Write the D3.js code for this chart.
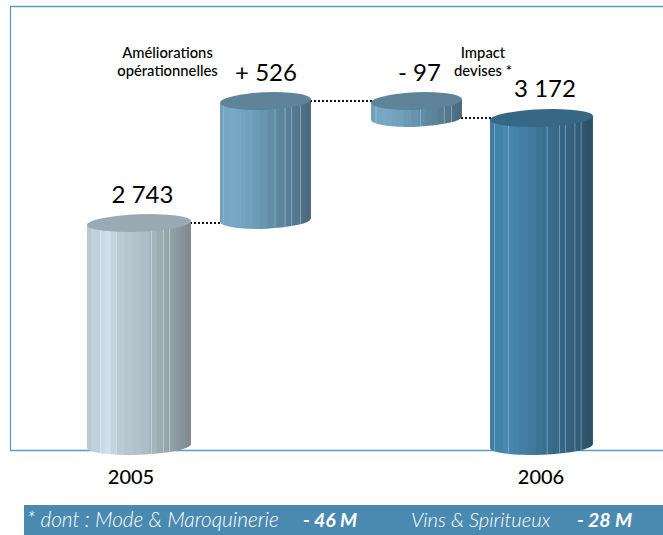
<!DOCTYPE html>
<html><head><meta charset="utf-8">
<script src="https://cdn.jsdelivr.net/npm/d3@7"></script>
<style>html,body{margin:0;padding:0;background:#fff;overflow:hidden}svg{display:block}text{font-family:Lato,"Open Sans",sans-serif}</style>
</head><body><svg id="c" width="663" height="535"></svg>
<script>
// ---- data ----
const categories = ["2005", "Améliorations opérationnelles", "Impact devises *", "2006"];
const deltas = [2743, 526, -97, 3172];
const valueLabels = ["2 743", "+ 526", "- 97", "3 172"];
const yearLabels = ["2005", "2006"];
const footerParts = ["* dont : Mode & Maroquinerie", "- 46 M", "Vins & Spiritueux", "- 28 M"];

// ---- layout / style ----
const W = 663, H = 535;
const svg = d3.select("#c");
const x = d3.scaleOrdinal(categories, [139, 265.5, 416.5, 541.5]);
const rxOf = d3.scaleOrdinal(categories, [52, 45.5, 45.5, 51.5]);
const y = d3.scaleLinear().domain([1790, 2743, 3172, 3269]).range([447, 223, 118, 101]);
const ry = 8.7, tilt = -2.3, rad = tilt * Math.PI / 180;
const bottomAdjust = [-1, -3, 0, -1];

const ramps = [
  [[0,"#b3c5cf"],[.2,"#d0e1eb"],[.3,"#bccbd4"],[.55,"#afbec6"],[.7,"#9eacb3"],[.88,"#8b979e"],[1,"#7d888e"]],
  [[0,"#6b9cb9"],[.12,"#7aabc7"],[.4,"#6c9bb6"],[.6,"#5f8aa2"],[.8,"#567b91"],[1,"#49687a"]],
  [[0,"#6b9cb9"],[.12,"#7aabc7"],[.4,"#6c9bb6"],[.6,"#5f8aa2"],[.8,"#567b91"],[1,"#49687a"]],
  [[0,"#3d7ba0"],[.15,"#4789af"],[.4,"#417a9e"],[.6,"#386b8b"],[.8,"#33607c"],[1,"#2d5064"]]
];
const topColors = ["#9aaab2", "#5f8398", "#5f8398", "#366885"];
const edges = [0,.04,.125,.175,.23,.28,.36,.44,.52,.6,.67,.73,.78,.82,.86,.89,.92,.95,.975,1];
const highlights = [
  [.125,.28,.615,.73,.79],
  [.03,.6,.71,.78,.88],
  [.05,.54,.8,.88],
  [.04,.175,.55,.67,.73,.82,.88]
];
const hlColors = ["#e4edf2","#b9d2e0","#b9d2e0","#a8cbe0"];

// frame (open on the right, runs off the page)
svg.append("path").attr("d", `M${W},6.5 H10.5 V450.5 H${W}`)
  .attr("fill","none").attr("stroke","#5a9bc4").attr("stroke-width",1.3);

// running totals → bar spans
let run = 0;
const bars = categories.map((c,i) => {
  let lo, hi;
  if (i === 0 || i === categories.length-1) { lo = y.domain()[0]; hi = deltas[i]; run = deltas[i]; }
  else { const next = run + deltas[i]; lo = Math.min(run,next); hi = Math.max(run,next); run = next; }
  return {c,i,lo,hi,cx:x(c),rx:rxOf(c),top:y(hi),bot:y(lo)+bottomAdjust[i]};
});

// connectors
const conn = [[0,1,2743],[1,2,3269],[2,3,3172]];
svg.selectAll("line.conn").data(conn).join("line").attr("class","conn")
  .attr("x1",d=>bars[d[0]].cx+bars[d[0]].rx-1).attr("x2",d=>bars[d[1]].cx-bars[d[1]].rx+1)
  .attr("y1",d=>y(d[2])).attr("y2",d=>y(d[2]))
  .attr("stroke","#111").attr("stroke-width",2).attr("stroke-dasharray","2 2");

const defs = svg.append("defs");
const g = svg.selectAll("g.bar").data(bars).join("g").attr("class","bar");
g.each(function(b){
  const sel = d3.select(this);
  const dx = b.rx*Math.cos(rad), dy = b.rx*Math.sin(rad);
  const xl=b.cx-dx, xr=b.cx+dx;
  const body = `M${xl},${b.top-dy} L${xr},${b.top+dy} L${xr},${b.bot+dy} A${b.rx},${ry} ${tilt} 0 1 ${xl},${b.bot-dy} Z`;
  defs.append("clipPath").attr("id","clip"+b.i).append("path").attr("d",body);
  const color = d3.scaleLinear().domain(ramps[b.i].map(d=>d[0])).range(ramps[b.i].map(d=>d[1]));
  const fx = d3.scaleLinear([0,1],[b.cx-b.rx,b.cx+b.rx]);
  const cg = sel.append("g").attr("clip-path",`url(#clip${b.i})`);
  const ytop = b.top-ry-4, hh = b.bot-ytop+ry+8;
  cg.selectAll("rect.f").data(d3.pairs(edges)).join("rect").attr("class","f")
    .attr("x",d=>fx(d[0])).attr("width",d=>fx(d[1])-fx(d[0])+.6)
    .attr("y",ytop).attr("height",hh)
    .attr("fill",d=>color((d[0]+d[1])/2));
  cg.selectAll("rect.h").data(highlights[b.i]).join("rect").attr("class","h")
    .attr("x",d=>fx(d)).attr("width",.9).attr("y",ytop).attr("height",hh)
    .attr("fill",hlColors[b.i]).attr("opacity",.55);
  sel.append("ellipse").attr("cx",b.cx).attr("cy",b.top).attr("rx",b.rx).attr("ry",ry)
    .attr("transform",`rotate(${tilt} ${b.cx} ${b.top})`)
    .attr("fill",topColors[b.i]);
});

// value labels
const valueX = [142.5, 266, 419.5, 545], valueY = [203, 81, 81, 97];
svg.selectAll("text.val").data(valueLabels).join("text").attr("class","val")
  .attr("x",(d,i)=>valueX[i]).attr("y",(d,i)=>valueY[i])
  .attr("text-anchor","middle").attr("font-size",24).attr("fill","#000").text(d=>d);

// category captions
const captions = [
  {x:167.5,lines:["Améliorations","opérationnelles"]},
  {x:483,lines:["Impact","devises *"]}
];
captions.forEach(c => c.lines.forEach((t,i) => {
  svg.append("text").attr("x",c.x).attr("y",58+i*18).attr("text-anchor","middle")
    .attr("font-size",14.8).attr("font-weight",500).attr("fill","#000").text(t);
}));

// years
const yearX = [131, 541];
svg.selectAll("text.yr").data(yearLabels).join("text").attr("class","yr")
  .attr("x",(d,i)=>yearX[i]).attr("y",484).attr("text-anchor","middle")
  .attr("font-size",20).attr("font-weight",500).attr("fill","#000").text(d=>d);

// footer
svg.append("rect").attr("x",24).attr("y",505).attr("width",W-24).attr("height",30).attr("fill","#4a8ab0");
const footX = [27, 303, 411, 577], bold = [false,true,false,true];
const footSize = [20.8, 19.5, 20.2, 19.5];
svg.selectAll("text.ft").data(footerParts).join("text").attr("class","ft")
  .attr("x",(d,i)=>footX[i]).attr("y",527)
  .attr("font-size",(d,i)=>footSize[i]).attr("font-style","italic")
  .attr("font-weight",(d,i)=>bold[i]?700:300).attr("fill","#fff").text(d=>d);
</script></body></html>
